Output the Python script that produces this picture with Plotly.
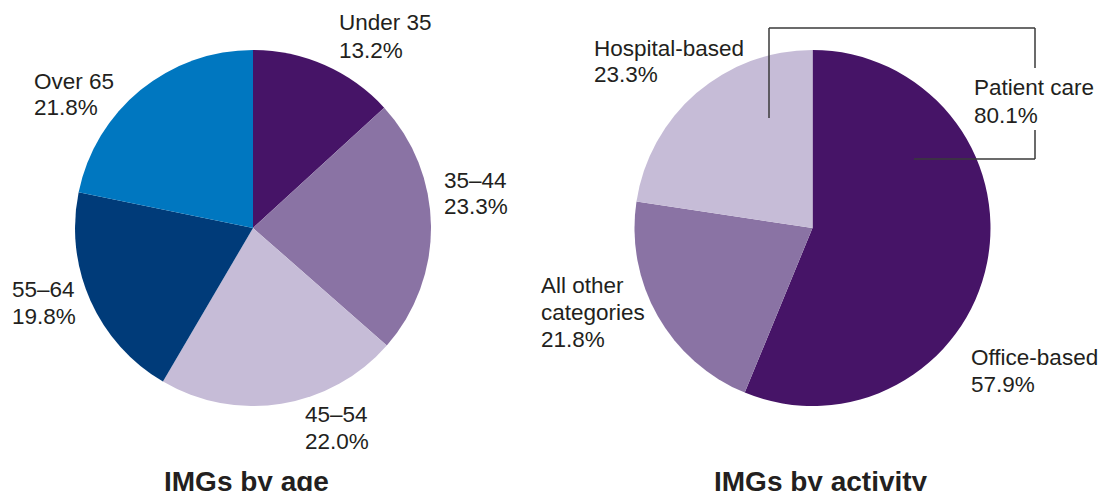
import plotly.graph_objects as go

# ---- data ----
age_groups = ["Under 35", "35–44", "45–54", "55–64", "Over 65"]
age_share = [13.2, 23.3, 22.0, 19.8, 21.8]
age_colors = ["#461467", "#8a73a4", "#c6bcd7", "#003b79", "#0077c0"]

activity_groups = ["Office-based", "All other<br>categories", "Hospital-based"]
activity_share = [57.9, 21.8, 23.3]
activity_colors = ["#461467", "#8a73a4", "#c6bcd7"]

patient_care_label = "Patient care"
patient_care_share = 80.1

titles = ["IMGs by age", "IMGs by activity"]

# ---- layout helpers ----
W, H = 1099, 491
FONT = "Liberation Sans, Arial, Helvetica, sans-serif"
TEXT = "#231f20"


def px(x):
    return x / W


def py(y):
    return 1 - y / H


def pie_domain(cx, cy, r):
    return dict(x=[px(cx - r), px(cx + r)], y=[py(cy + r), py(cy - r)])


fig = go.Figure()

fig.add_trace(go.Pie(
    labels=age_groups, values=age_share, sort=False, direction="clockwise",
    rotation=0, textinfo="none", hoverinfo="label+value",
    marker=dict(colors=age_colors, line=dict(width=0)),
    domain=pie_domain(253, 228, 178), showlegend=False,
))
fig.add_trace(go.Pie(
    labels=[g.replace("<br>", " ") for g in activity_groups], values=activity_share,
    sort=False, direction="clockwise", rotation=0, textinfo="none",
    hoverinfo="label+value",
    marker=dict(colors=activity_colors, line=dict(width=0)),
    domain=pie_domain(812.5, 228, 178), showlegend=False,
))

annotations = []
LINE = 27


def add_label(text_lines, x, y_first):
    for i, t in enumerate(text_lines):
        annotations.append(dict(
            x=px(x), y=py(y_first + i * LINE), xref="paper", yref="paper",
            xanchor="left", yanchor="middle", showarrow=False, text=t,
            font=dict(family=FONT, size=22.5, color=TEXT),
        ))


# label anchor points (left edge, first line centre) in pixels
age_label_pos = [(337, 23), (442, 180), (303, 414), (10, 289), (32, 81)]
activity_label_pos = [(969, 357), (539, 285), (592, 48)]

for name, val, (x, y) in zip(age_groups, age_share, age_label_pos):
    add_label(name.split("<br>") + [f"{val:.1f}%"], x, y)
for name, val, (x, y) in zip(activity_groups, activity_share, activity_label_pos):
    add_label(name.split("<br>") + [f"{val:.1f}%"], x, y)
add_label([patient_care_label, f"{patient_care_share:.1f}%"], 972, 88)

for t, cx in zip(titles, [246, 821]):
    annotations.append(dict(
        x=px(cx), y=py(481), xref="paper", yref="paper",
        xanchor="center", yanchor="middle", showarrow=False,
        text=f"<b>{t}</b>", font=dict(family=FONT, size=28, color=TEXT),
    ))

# bracket grouping office- and hospital-based into patient care
line_style = dict(color="#3a3a3a", width=1.5)
bracket = [
    (769, 118, 769, 28),
    (769, 28, 1035, 28),
    (1035, 28, 1035, 68),
    (1035, 130, 1035, 159),
    (1035, 159, 914, 159),
]
shapes = [
    dict(type="line", xref="paper", yref="paper",
         x0=px(a), y0=py(b), x1=px(c), y1=py(d), line=line_style)
    for a, b, c, d in bracket
]

fig.update_layout(
    width=W, height=H, autosize=False,
    margin=dict(l=0, r=0, t=0, b=0),
    paper_bgcolor="white", plot_bgcolor="white",
    annotations=annotations, shapes=shapes,
)

fig.write_html("out.html")
